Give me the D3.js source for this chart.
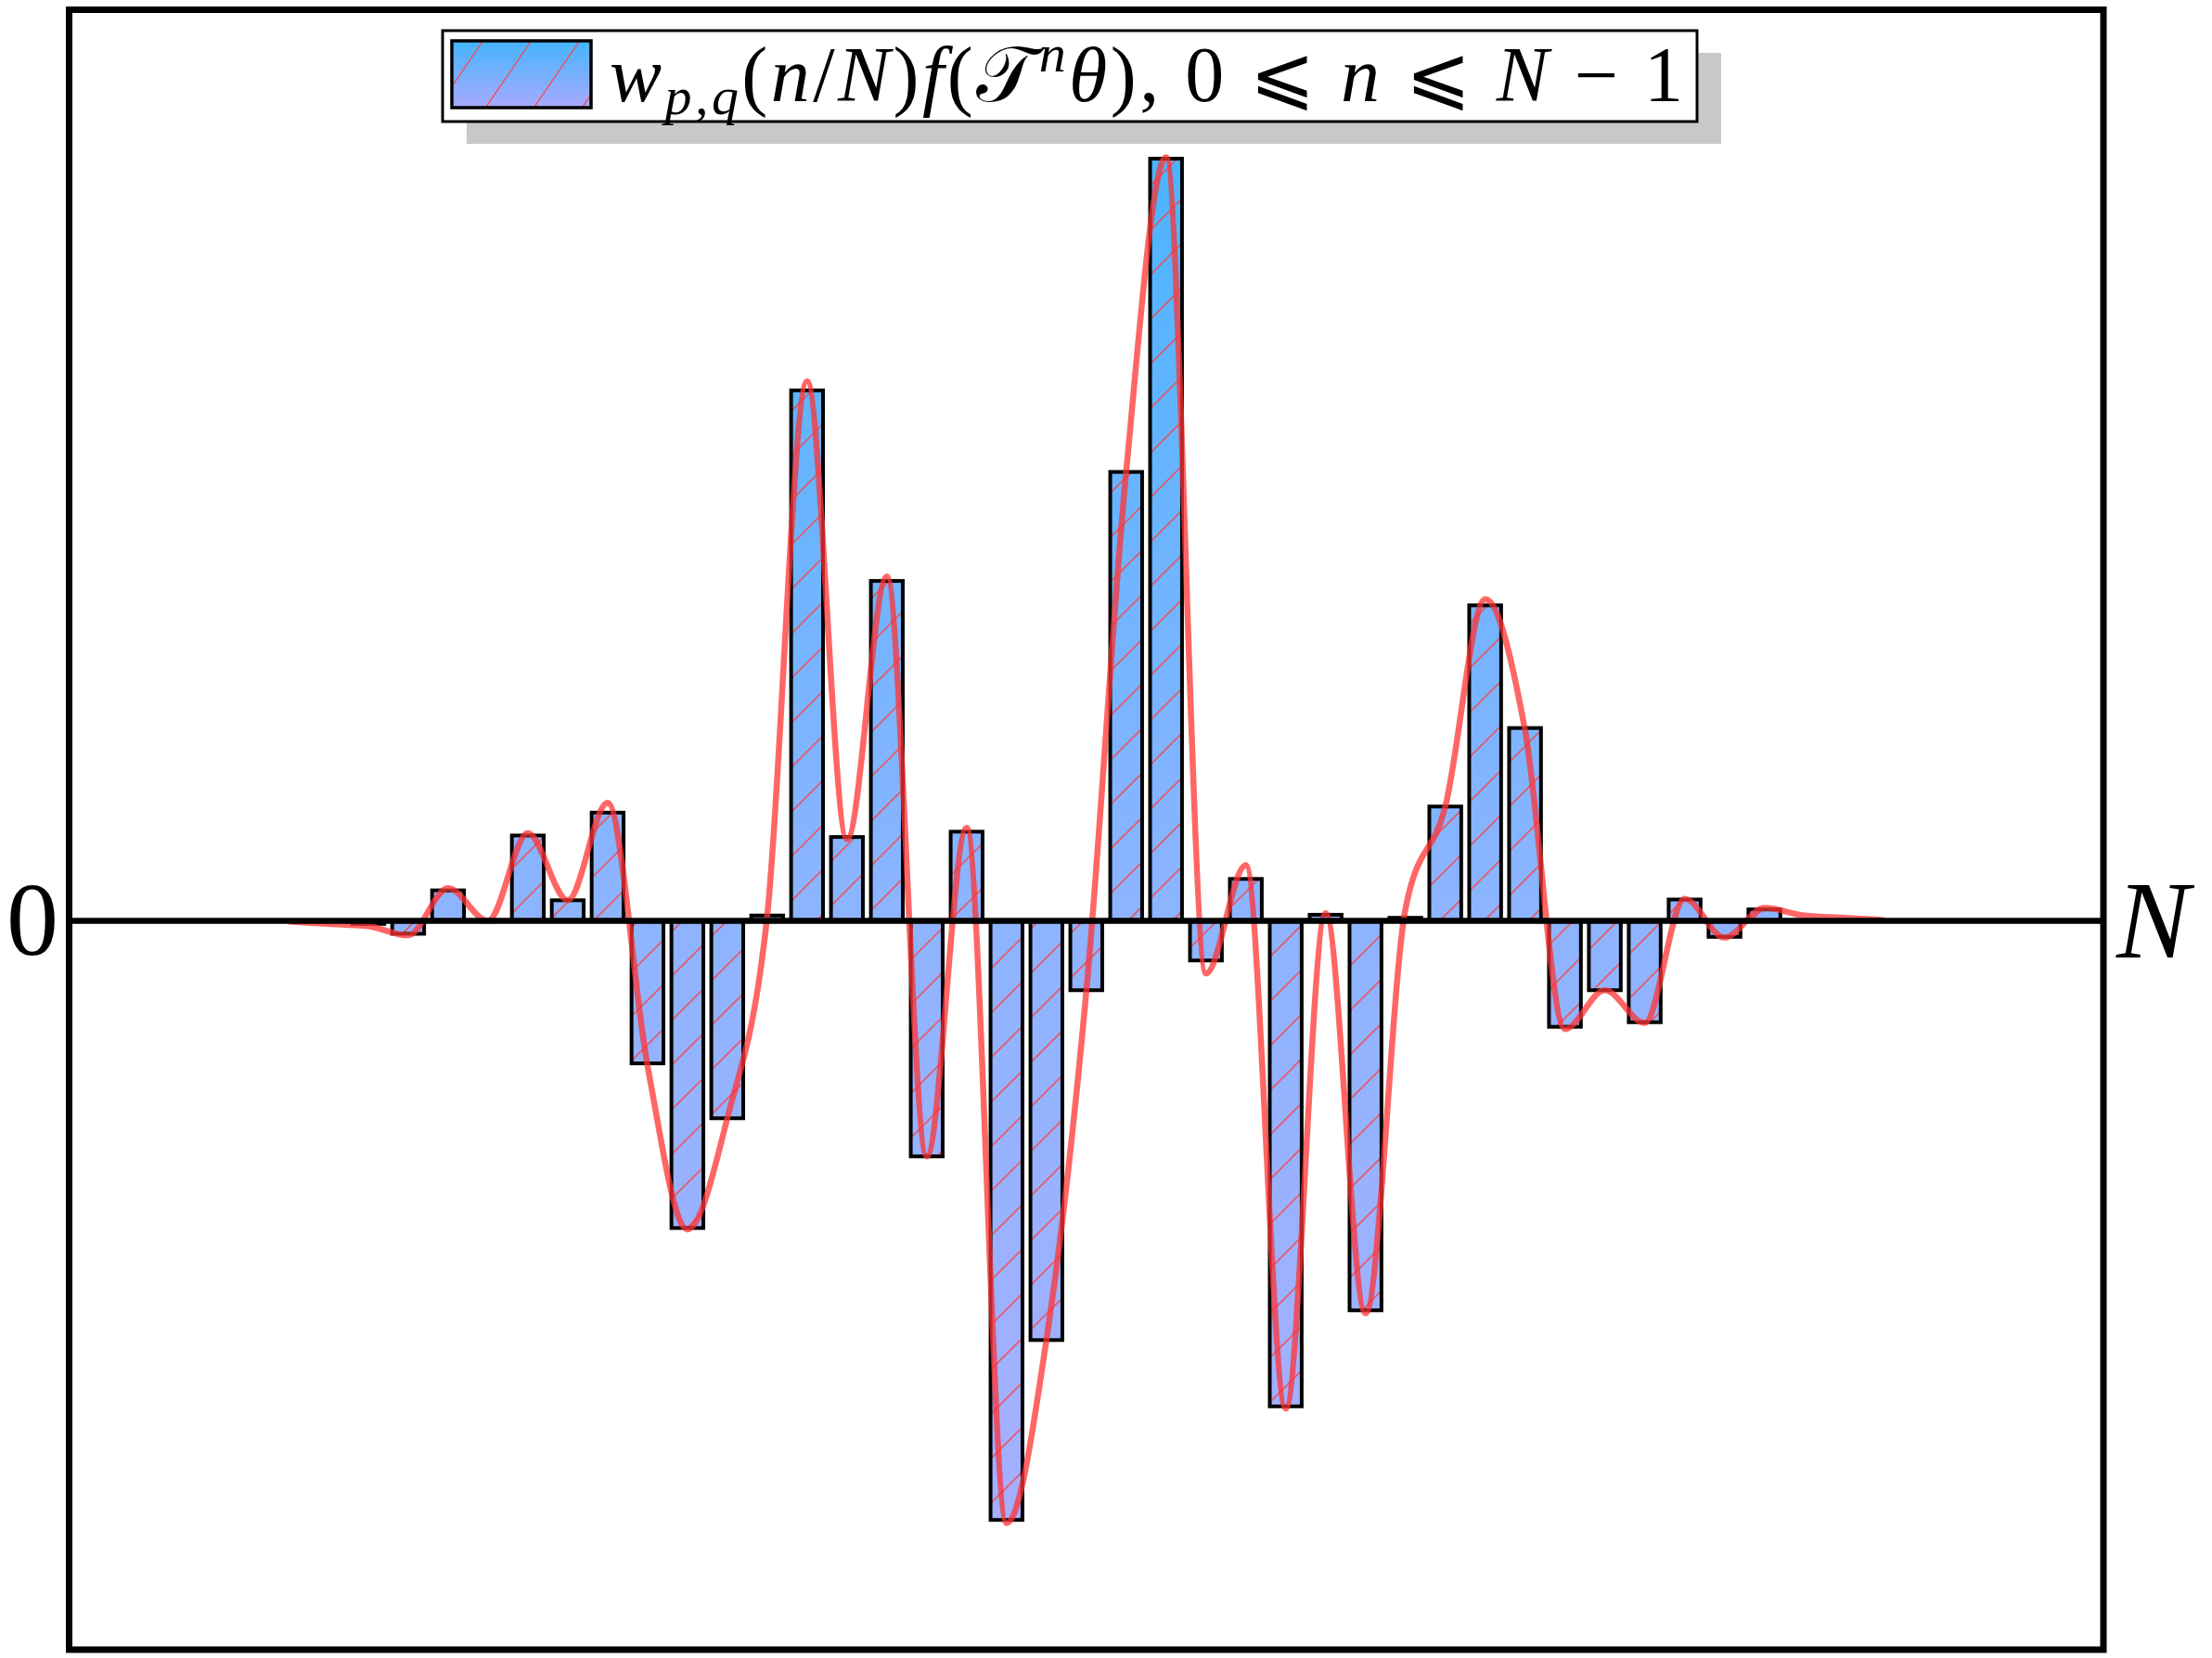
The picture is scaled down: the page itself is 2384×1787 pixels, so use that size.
<!DOCTYPE html>
<html>
<head>
<meta charset="utf-8">
<script src="https://cdn.jsdelivr.net/npm/d3@7"></script>
<style>
  html, body { margin: 0; padding: 0; background: #fff; }
  svg { display: block; }
</style>
</head>
<body>
<svg id="chart" width="2384" height="1787"></svg>
<script>
// samples n = 0 .. N-1
const N = 51;

// bar heights w(n/N) f(T^n θ), for n = 7 .. 42 (others are zero)
const barIndex = d3.range(7, 43);
const barValues = [
  -0.004, -0.017, 0.040, 0.000, 0.112, 0.027, 0.142, -0.187, -0.403, -0.259,
  0.007, 0.696, 0.110, 0.446, -0.309, 0.117, -0.786, -0.550, -0.091, 0.589,
  1.000, -0.052, 0.055, -0.637, 0.008, -0.511, 0.004, 0.150, 0.414, 0.253,
  -0.139, -0.091, -0.133, 0.028, -0.021, 0.015
];

// smooth red curve, read at each n = 5 .. 45
const curveIndex = d3.range(5, 46);
const curveValues = [
  -0.001, -0.004, -0.007, -0.019, 0.043, 0.000, 0.115, 0.027,
  0.155, -0.190, -0.405, -0.259, 0.006, 0.708, 0.107, 0.452, -0.309, 0.122,
  -0.790, -0.550, -0.093, 0.589, 1.002, -0.069, 0.073, -0.640, 0.010, -0.515,
  0.015, 0.150, 0.422, 0.250, -0.142, -0.091, -0.134, 0.029, -0.022, 0.017,
  0.007, 0.004, 0.001
];

const xLabels = ["0", "N"];

const serif = "'Liberation Serif', 'Times New Roman', 'DejaVu Serif', serif";
const frame = { left: 74.5, right: 2267, top: 10.5, bottom: 1778 };
const svg = d3.select("#chart");
const defs = svg.append("defs");

const x = d3.scaleBand()
    .domain(d3.range(N))
    .range([frame.left, frame.right])
    .paddingInner(0.2)
    .paddingOuter(0.1);

const y = d3.scaleLinear()
    .domain([-0.9562, 1.1954])
    .range([frame.bottom, frame.top]);

// fills
const grad = defs.append("linearGradient").attr("id", "barGrad")
    .attr("gradientUnits", "userSpaceOnUse")
    .attr("x1", 0).attr("x2", 0).attr("y1", frame.top).attr("y2", frame.bottom);
grad.append("stop").attr("offset", 0).attr("stop-color", "#3eb4ff");
grad.append("stop").attr("offset", (y(0) - frame.top) / (frame.bottom - frame.top)).attr("stop-color", "#8eb4ff");
grad.append("stop").attr("offset", 1).attr("stop-color", "#aaaeff");

const legGrad = defs.append("linearGradient").attr("id", "legGrad")
    .attr("x1", 0).attr("x2", 0).attr("y1", 0).attr("y2", 1);
legGrad.append("stop").attr("offset", 0).attr("stop-color", "#44b4fc");
legGrad.append("stop").attr("offset", 1).attr("stop-color", "#a9aaff");

const hatch = defs.append("pattern").attr("id", "hatch")
    .attr("patternUnits", "userSpaceOnUse").attr("width", 48).attr("height", 48);
hatch.append("path").attr("d", "M0,48L48,0M-12,12L12,-12M36,60L60,36")
    .attr("stroke", "#ff4040").attr("stroke-width", 1.6).attr("stroke-opacity", 0.8);

const legHatch = defs.append("pattern").attr("id", "legHatch")
    .attr("patternUnits", "userSpaceOnUse").attr("width", 52).attr("height", 76)
    .attr("x", 470).attr("y", 42);
legHatch.append("path").attr("d", "M0,76L52,0M-52,76L0,0M52,76L104,0")
    .attr("stroke", "#ff4040").attr("stroke-width", 1.4).attr("stroke-opacity", 0.85);

// bars
const bars = barIndex.map((n, i) => ({ n, v: barValues[i] }));
const barG = svg.append("g");
const rectAttrs = sel => sel
    .attr("x", d => x(d.n))
    .attr("width", x.bandwidth())
    .attr("y", d => y(Math.max(0, d.v)))
    .attr("height", d => Math.abs(y(d.v) - y(0)));

barG.selectAll("rect.fill").data(bars).join("rect").attr("class", "fill")
    .call(rectAttrs).attr("fill", "url(#barGrad)");
barG.selectAll("rect.hatch").data(bars).join("rect").attr("class", "hatch")
    .call(rectAttrs).attr("fill", "url(#hatch)")
    .attr("stroke", "#000").attr("stroke-width", 4);

// curve
const line = d3.line()
    .x(n => x(n) + x.bandwidth() / 2)
    .y((n, i) => y(curveValues[i]))
    .curve(d3.curveMonotoneX);

svg.append("path").datum(curveIndex)
    .attr("d", line)
    .attr("fill", "none")
    .attr("stroke", "#ff3333")
    .attr("stroke-opacity", 0.75)
    .attr("stroke-width", 6.5)
    .attr("stroke-linejoin", "round");

// zero axis and frame
svg.append("line")
    .attr("x1", frame.left).attr("x2", frame.right)
    .attr("y1", y(0)).attr("y2", y(0))
    .attr("stroke", "#000").attr("stroke-width", 6.5);

svg.append("rect")
    .attr("x", frame.left).attr("y", frame.top)
    .attr("width", frame.right - frame.left).attr("height", frame.bottom - frame.top)
    .attr("fill", "none").attr("stroke", "#000").attr("stroke-width", 7);

svg.append("text").attr("font-family", serif)
    .attr("x", 35).attr("y", y(0) + 37)
    .attr("text-anchor", "middle").attr("font-size", 112)
    .text(xLabels[0]);

svg.append("text").attr("font-family", serif)
    .attr("x", frame.right + 14).attr("y", y(0) + 40)
    .attr("font-size", 118).attr("font-style", "italic")
    .text(xLabels[1]);

// legend
const leg = svg.append("g");
leg.append("rect").attr("x", 503).attr("y", 57).attr("width", 1352).attr("height", 98)
    .attr("fill", "#c8c8c8");
leg.append("rect").attr("x", 477).attr("y", 33).attr("width", 1352).attr("height", 98)
    .attr("fill", "#fff").attr("stroke", "#000").attr("stroke-width", 3);
leg.append("rect").attr("x", 487).attr("y", 44).attr("width", 150).attr("height", 72)
    .attr("fill", "url(#legGrad)");
leg.append("rect").attr("x", 487).attr("y", 44).attr("width", 150).attr("height", 72)
    .attr("fill", "url(#legHatch)").attr("stroke", "#000").attr("stroke-width", 3.5);

const label = leg.append("text").attr("font-family", serif)
    .attr("x", 657).attr("y", 109).attr("font-size", 84)
    .attr("textLength", 1157).attr("lengthAdjust", "spacing");
const parts = [
  ["w", "italic"], ["p,q", "italic", "sub"], ["(", null], ["n", "italic"], ["/", null],
  ["N", "italic"], [")", null], ["f", "italic"], ["(", null], ["\u{1D4AF}", null],
  ["n", "italic", "sup"], ["θ", "italic"], [")", null], [", 0 ", null], ["⩽", null],
  [" n ", "italic"], ["⩽", null], [" N ", "italic"], ["− 1", null]
];
let shift = 0;
parts.forEach(([t, style, pos]) => {
  const ts = label.append("tspan").text(t);
  if (style) ts.attr("font-style", style);
  let dy = 0;
  if (pos === "sub") { dy = 14; ts.attr("font-size", 58); }
  if (pos === "sup") { dy = -32; ts.attr("font-size", 58); }
  ts.attr("dy", dy - shift);
  shift = dy;
});
</script>
</body>
</html>
